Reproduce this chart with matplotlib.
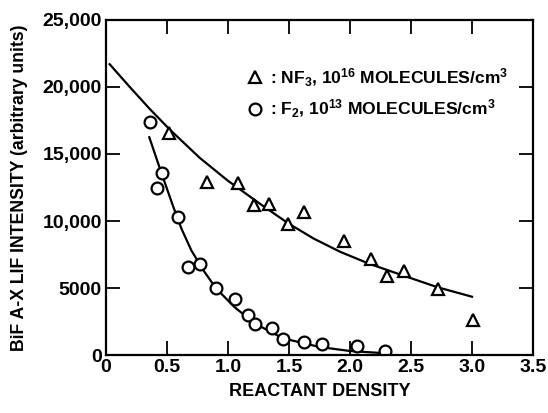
#%% Imports
import matplotlib
matplotlib.use('Agg')
import matplotlib.pyplot as plt

plt.rcParams['font.family'] = ['Liberation Sans', 'DejaVu Sans']
plt.rcParams['font.weight'] = 'bold'
plt.rcParams['axes.labelweight'] = 'bold'
plt.rcParams['mathtext.fontset'] = 'custom'
plt.rcParams['mathtext.rm'] = 'Liberation Sans:bold'
plt.rcParams['mathtext.it'] = 'Liberation Sans:bold'
plt.rcParams['mathtext.bf'] = 'Liberation Sans:bold'

#%% Data

# NF3, triangles
nf3_x = [0.52, 0.83, 1.08, 1.21, 1.34, 1.49, 1.62, 1.95, 2.17, 2.30, 2.44, 2.72, 3.01]
nf3_y = [16600, 12900, 12800, 11200, 11300, 9800, 10700, 8500, 7200, 5900, 6300, 4900, 2600]

# F2, circles
f2_x = [0.36, 0.42, 0.46, 0.59, 0.67, 0.77, 0.90, 1.06, 1.16, 1.22, 1.36, 1.45,
        1.62, 1.77, 2.06, 2.29]
f2_y = [17400, 12450, 13600, 10300, 6600, 6800, 5000, 4200, 3000, 2300, 2000, 1200,
        950, 800, 700, 320]

# hand drawn fit curves
nf3_fit_x = [0.03, 0.20, 0.36, 0.52, 0.77, 1.00, 1.10, 1.26, 1.49, 1.70, 1.92, 2.16,
             2.43, 2.72, 3.00]
nf3_fit_y = [21700, 19950, 18350, 16850, 14700, 13000, 12350, 11300, 9850, 8700, 7700,
             6800, 5950, 5050, 4350]
f2_fit_x = [0.355, 0.45, 0.55, 0.62, 0.70, 0.80, 0.90, 1.05, 1.22, 1.45, 1.75, 2.00,
            2.29]
f2_fit_y = [16250, 13700, 11100, 9400, 7800, 6300, 5000, 3600, 2350, 1250, 600, 300,
            130]

xticks = [0, 0.5, 1.0, 1.5, 2.0, 2.5, 3.0, 3.5]
xticklabels = ['0', '0.5', '1.0', '1.5', '2.0', '2.5', '3.0', '3.5']
yticks = [0, 5000, 10000, 15000, 20000, 25000]
yticklabels = ['0', '5000', '10,000', '15,000', '20,000', '25,000']

#%% Plot

fig = plt.figure(figsize=(5.48, 4.13), dpi=100)
ax = fig.add_axes([0.1934, 0.1404, 0.7792, 0.8112])

ax.plot(nf3_fit_x, nf3_fit_y, 'k-', lw=1.6)
ax.plot(f2_fit_x, f2_fit_y, 'k-', lw=1.6)
ax.plot(nf3_x, nf3_y, 'k^', ms=8, mfc='white', mew=1.6, ls='none',
        label=': NF$_3$, 10$^{16}$ MOLECULES/cm$^3$')
ax.plot(f2_x, f2_y, 'ko', ms=8.5, mfc='white', mew=1.6, ls='none',
        label=': F$_2$, 10$^{13}$ MOLECULES/cm$^3$')

ax.set_xlim(0, 3.5)
ax.set_ylim(0, 25000)
ax.set_xticks(xticks)
ax.set_xticklabels(xticklabels)
ax.set_yticks(yticks)
ax.set_yticklabels(yticklabels)
ax.tick_params(direction='in', length=10, width=1.3, top=True, right=True,
               labelsize=14, pad=3)
for s in ax.spines.values():
    s.set_linewidth(1.6)

ax.set_xlabel('REACTANT DENSITY', fontsize=13, labelpad=5)
ax.set_ylabel('BiF A-X LIF INTENSITY (arbitrary units)', fontsize=12.7, labelpad=10)

leg = ax.legend(loc='upper left', bbox_to_anchor=(0.333, 0.862), frameon=False,
                fontsize=12.6, handlelength=0.8, handletextpad=0.45, labelspacing=0.55,
                borderpad=0, borderaxespad=0)

fig.savefig('out.png', dpi=100)
